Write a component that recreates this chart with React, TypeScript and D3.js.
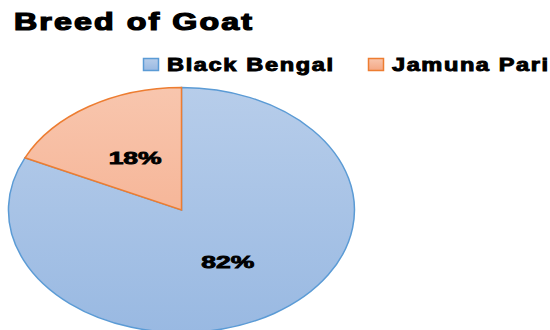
import React from "react";
import * as d3 from "d3";

const categories = ["Black Bengal", "Jamuna Pari"];
const values = [82, 18];
const labels = ["82%", "18%"];
const titleText = "Breed of Goat";

const fills = [
  { top: "#b7cdea", bottom: "#99b9e2", stroke: "#5b9bd5" },
  { top: "#f8c6ae", bottom: "#f4a784", stroke: "#ed7d31" },
];

export default function App() {
  const W = 550;
  const H = 330;
  const cx = 181.5;
  const cy = 210;
  const rx = 173;
  const ry = 122.5;

  const pie = d3.pie<number>().sort(null).value((d) => d).startAngle(0).endAngle(2 * Math.PI);
  const arcs = pie(values);
  const arc = d3.arc<d3.PieArcDatum<number>>().innerRadius(0).outerRadius(1);
  const labelArc = d3.arc<d3.PieArcDatum<number>>().innerRadius(0.99).outerRadius(0.99);

  const legendX = [143, 368];
  const legendTextX = [167, 392];
  const legendTextLen = [166, 156];
  const sx = 1.4;
  const lsx = 1.35;

  return (
    <svg
      width={W}
      height={H}
      style={{ position: "absolute", left: 0, top: 0, background: "#fff" }}
      fontFamily="'Liberation Sans', Arial, sans-serif"
    >
      <defs>
        {fills.map((f, i) => (
          <linearGradient key={i} id={`g${i}`} x1="0" y1="0" x2="0" y2="1">
            <stop offset="0" stopColor={f.top} />
            <stop offset="1" stopColor={f.bottom} />
          </linearGradient>
        ))}
        {fills.map((f, i) => (
          <linearGradient key={"p" + i} id={`pg${i}`} gradientUnits="userSpaceOnUse" x1="0" y1={-1} x2="0" y2={1}>
            <stop offset="0" stopColor={f.top} />
            <stop offset="1" stopColor={f.bottom} />
          </linearGradient>
        ))}
      </defs>

      <g transform={`translate(14,30) scale(${sx},1)`}>
        <text
          x={0}
          y={0}
          fontSize={23}
          fontWeight="bold"
          fill="#000"
          stroke="#000"
          strokeWidth={1.2}
          textLength={238 / sx}
          lengthAdjust="spacing"
        >
          {titleText}
        </text>
      </g>

      {categories.map((c, i) => (
        <g key={c}>
          <rect
            x={legendX[i] + 0.5}
            y={58.5}
            width={15}
            height={12}
            fill={`url(#g${i})`}
            stroke={fills[i].stroke}
            strokeWidth={1.5}
          />
          <g transform={`translate(${legendTextX[i]},70.5) scale(${lsx},1)`}>
            <text
              x={0}
              y={0}
              fontSize={17.5}
              fontWeight="bold"
              fill="#000"
              stroke="#000"
              strokeWidth={0.9}
              textLength={legendTextLen[i] / lsx}
              lengthAdjust="spacing"
            >
              {c}
            </text>
          </g>
        </g>
      ))}

      <g transform={`translate(${cx},${cy}) scale(${rx},${ry})`}>
        {arcs.map((a, i) => (
          <path
            key={i}
            d={arc(a) || ""}
            fill={`url(#pg${i})`}
            stroke={fills[i].stroke}
            strokeWidth={1.5}
            vectorEffect="non-scaling-stroke"
          />
        ))}
      </g>

      {arcs.map((a, i) => {
        const [ux, uy] = labelArc.centroid(a);
        const k = 0.5 / 0.99;
        const x = cx + ux * k * rx;
        const y = cy + uy * k * ry;
        return (
          <text
            key={"l" + i}
            x={x}
            y={y}
            dy="0.36em"
            textAnchor="middle"
            fontSize={16.5}
            fontWeight="bold"
            fill="#000"
            stroke="#000"
            strokeWidth={0.8}
            textLength={53}
            lengthAdjust="spacingAndGlyphs"
          >
            {labels[i]}
          </text>
        );
      })}
    </svg>
  );
}
